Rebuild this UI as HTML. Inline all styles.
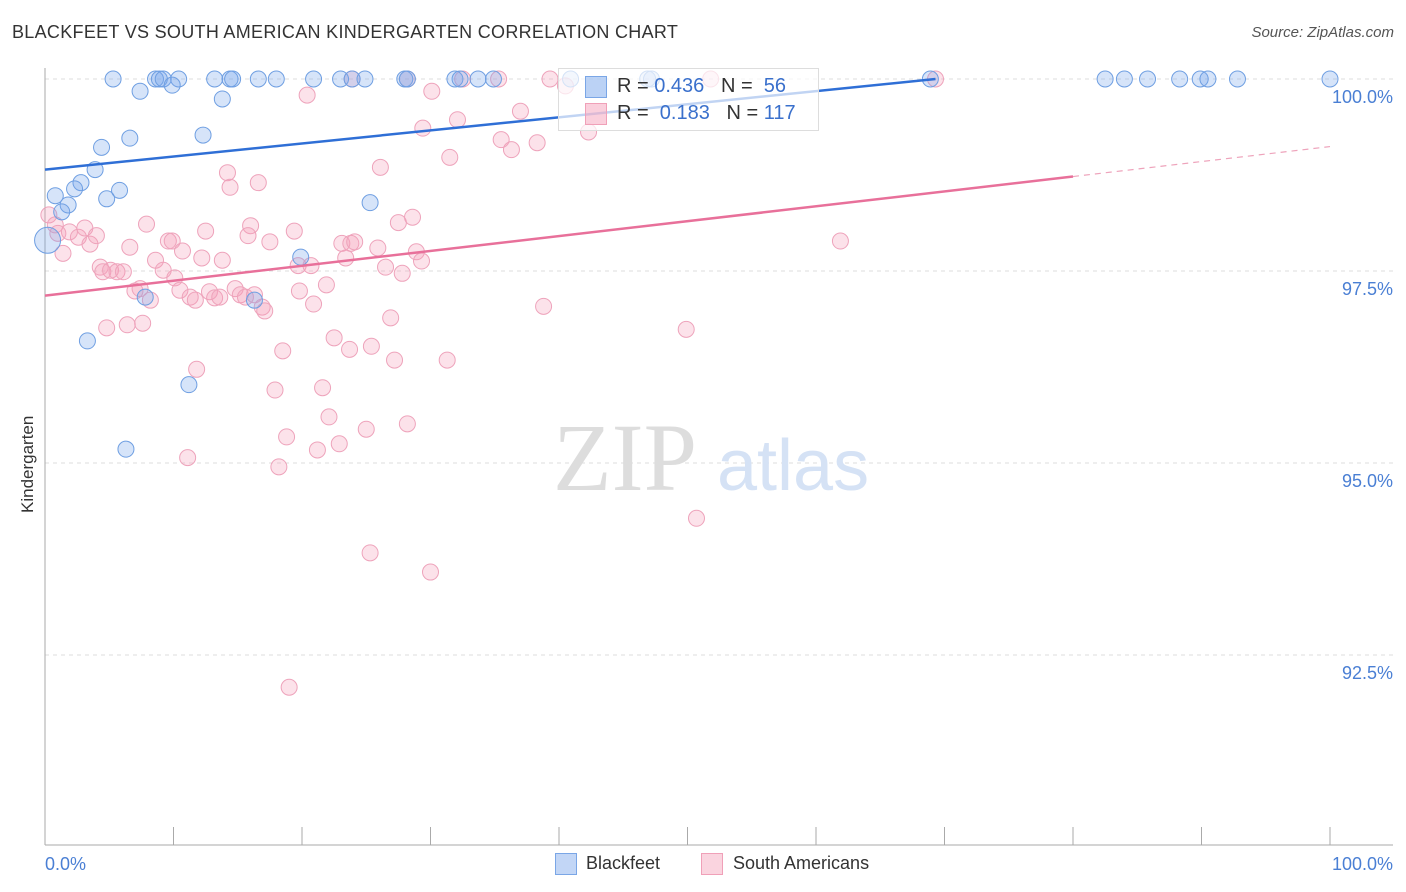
<!DOCTYPE html>
<html><head><meta charset="utf-8"><style>
body{margin:0;background:#fff;font-family:"Liberation Sans",sans-serif;}
#wrap{position:relative;width:1406px;height:892px;overflow:hidden;}
.t{position:absolute;white-space:nowrap;}
</style></head><body>
<div id="wrap">
<div class="t" style="left:12px;top:22px;font-size:18px;letter-spacing:0.3px;color:#333;">BLACKFEET VS SOUTH AMERICAN KINDERGARTEN CORRELATION CHART</div>
<div class="t" style="right:12px;top:24px;font-size:15px;color:#555;font-style:italic;">Source: ZipAtlas.com</div>
<svg id="plot" width="1406" height="892" style="position:absolute;left:0;top:0"></svg>
<div class="t" style="left:8px;top:456px;font-size:17px;color:#333;transform:rotate(-90deg);transform-origin:0 0;"><span style="position:relative;left:-57px;top:10px">Kindergarten</span></div>
<div style="position:absolute;left:558px;top:68px;width:259px;height:61px;border:1px solid #ddd;background:rgba(255,255,255,0.7);font-size:20px;">
 <div style="position:absolute;left:26px;top:7px;width:20px;height:20px;background:rgba(120,165,235,0.5);border:1px solid #7aa6e6"></div>
 <div class="t" style="left:58px;top:6px;color:#333">R = <span style="color:#3a70cc">0.436</span>&nbsp;&nbsp;&nbsp;N = &nbsp;<span style="color:#3a70cc">56</span></div>
 <div style="position:absolute;left:26px;top:34px;width:20px;height:20px;background:rgba(245,160,185,0.5);border:1px solid #f0a0b8"></div>
 <div class="t" style="left:58px;top:33px;color:#333">R = &nbsp;<span style="color:#3a70cc">0.183</span>&nbsp;&nbsp;&nbsp;N = <span style="color:#3a70cc">117</span></div>
</div>
<div>
 <div style="position:absolute;left:555px;top:853px;width:20px;height:20px;background:rgba(120,165,235,0.45);border:1px solid #7aa6e6"></div>
 <div class="t" style="left:586px;top:853px;font-size:18px;color:#333">Blackfeet</div>
 <div style="position:absolute;left:701px;top:853px;width:20px;height:20px;background:rgba(245,160,185,0.45);border:1px solid #f0a0b8"></div>
 <div class="t" style="left:733px;top:853px;font-size:18px;color:#333">South Americans</div>
</div>
</div>
<script>
const yTicks=[100,97.5,95,92.5];
const yTickLabels=["100.0%","97.5%","95.0%","92.5%"];
const xEndLabels=["0.0%","100.0%"];
const blueX=[5.3,8.6,8.9,9.2,10.4,13.2,14.4,14.6,16.6,18.0,20.9,23.0,23.9,24.9,28.0,28.2,31.9,32.3,33.7,34.9,40.9,46.9,47.2,68.9,82.5,84.0,85.8,88.3,89.9,90.5,92.8,100,
7.4,9.9,13.8,4.4,6.6,12.3,3.9,2.8,2.3,5.8,0.8,4.8,1.8,1.3,25.3,0.2,19.9,7.8,16.3,3.3,11.2,6.3];
const blueY=[100,100,100,100,100,100,100,100,100,100,100,100,100,100,100,100,100,100,100,100,100,100,100,100,100,100,100,100,100,100,100,100,
99.84,99.92,99.74,99.11,99.23,99.27,98.82,98.65,98.57,98.55,98.48,98.44,98.36,98.27,98.39,97.9,97.68,97.16,97.12,96.59,96.02,95.18];
const pinkX=[23.9,28.2,32.5,35.3,39.3,51.8,69.3,40.5,20.4,30.1,32.1,37.0,35.5,29.4,31.5,38.3,36.3,42.3,26.1,
14.2,14.4,16.6,7.9,12.5,16.0,19.4,27.5,28.6,
0.3,0.8,1.0,1.4,1.9,2.6,3.1,3.5,4.0,4.3,4.5,5.1,5.6,6.1,6.6,7.0,7.4,8.2,8.6,9.2,9.6,9.9,10.1,10.5,10.7,11.3,11.7,12.2,12.8,13.2,13.6,13.8,14.8,15.2,15.6,15.8,16.3,16.9,17.1,17.5,19.7,20.7,19.8,20.9,21.9,23.1,23.4,23.8,24.1,25.9,26.5,27.8,28.9,29.3,22.5,23.7,25.4,26.9,27.2,31.3,38.8,49.9,61.9,
4.8,6.4,7.6,11.8,18.5,17.9,21.6,22.1,18.8,21.2,22.9,25.0,28.2,11.1,18.2,25.3,30.0,50.7,19.0];
const pinkY=[100,100,100,100,100,100,100,99.91,99.79,99.84,99.47,99.58,99.21,99.36,98.98,99.17,99.08,99.31,98.85,
98.78,98.59,98.65,98.11,98.02,98.09,98.02,98.13,98.2,
98.23,98.1,97.99,97.73,98.01,97.94,98.06,97.85,97.96,97.55,97.49,97.51,97.49,97.49,97.81,97.24,97.27,97.12,97.64,97.51,97.89,97.89,97.41,97.25,97.76,97.16,97.12,97.67,97.23,97.15,97.16,97.64,97.27,97.19,97.16,97.96,97.19,97.03,96.98,97.88,97.57,97.57,97.24,97.07,97.32,97.86,97.67,97.86,97.88,97.8,97.55,97.47,97.75,97.63,96.63,96.48,96.52,96.89,96.34,96.34,97.04,96.74,97.89,
96.76,96.8,96.82,96.22,96.46,95.95,95.98,95.6,95.34,95.17,95.25,95.44,95.51,95.07,94.95,93.83,93.58,94.28,92.08];
const blueTrend=[[0,98.82],[69.3,100]];
const pinkTrend=[[0,97.18],[80,98.73],[100,99.12]];

const NS="http://www.w3.org/2000/svg";
const svg=document.getElementById('plot');
const X=v=>45+v*12.85;
const Y=v=>79+(100-v)*76.8;
function mk(tag,attrs){const e=document.createElementNS(NS,tag);for(const k in attrs)e.setAttribute(k,attrs[k]);svg.appendChild(e);return e;}
yTicks.forEach((t,i)=>{
 const g=mk('line',{x1:45,x2:1393,y1:Y(t),y2:Y(t),stroke:'#ddd','stroke-dasharray':'4,4'});
 
 
 const tx=mk('text',{x:1393,y:Y(t)+24,'text-anchor':'end','font-size':18,fill:'#4a7fd4','font-family':'Liberation Sans'});
 tx.textContent=yTickLabels[i];
 
 
});
let ax=mk('line',{x1:45,x2:45,y1:68,y2:845,stroke:'#aaa'});


ax=mk('line',{x1:45,x2:1393,y1:845,y2:845,stroke:'#aaa'});


for(let i=0;i<=10;i++){
 const tk=mk('line',{x1:X(i*10),x2:X(i*10),y1:827,y2:845,stroke:'#aaa'});
 
 
}
let xl=mk('text',{x:45,y:870,'font-size':18,fill:'#4a7fd4','font-family':'Liberation Sans'});xl.textContent=xEndLabels[0];


xl=mk('text',{x:1393,y:870,'text-anchor':'end','font-size':18,fill:'#4a7fd4','font-family':'Liberation Sans'});xl.textContent=xEndLabels[1];


let wm=mk('text',{x:553,y:490,'font-size':96,fill:'#ddd','font-family':'Liberation Serif'});wm.textContent='ZIP';


wm=mk('text',{x:717,y:490,'font-size':72,fill:'#d5e2f5','font-family':'Liberation Sans'});wm.textContent='atlas';


pinkX.forEach((x,i)=>{
 const c=mk('circle',{cx:X(x),cy:Y(pinkY[i]),r:8,fill:'rgba(245,160,185,0.3)',stroke:'#eea3bb','stroke-width':1});
 
 
});
blueX.forEach((x,i)=>{
 const c=mk('circle',{cx:X(x),cy:Y(blueY[i]),r:(i===47?13:8),fill:'rgba(120,165,235,0.3)',stroke:'#6f9fe2','stroke-width':1});
 
 
});
let tl=mk('line',{x1:X(blueTrend[0][0]),y1:Y(blueTrend[0][1]),x2:X(blueTrend[1][0]),y2:Y(blueTrend[1][1]),stroke:'#2f6fd6','stroke-width':2.5});


tl=mk('line',{x1:X(pinkTrend[0][0]),y1:Y(pinkTrend[0][1]),x2:X(pinkTrend[1][0]),y2:Y(pinkTrend[1][1]),stroke:'#e8709a','stroke-width':2.5});


tl=mk('line',{x1:X(pinkTrend[1][0]),y1:Y(pinkTrend[1][1]),x2:X(pinkTrend[2][0]),y2:Y(pinkTrend[2][1]),stroke:'#eea3bb','stroke-width':1.2,'stroke-dasharray':'6,5'});


</script>
</body></html>
